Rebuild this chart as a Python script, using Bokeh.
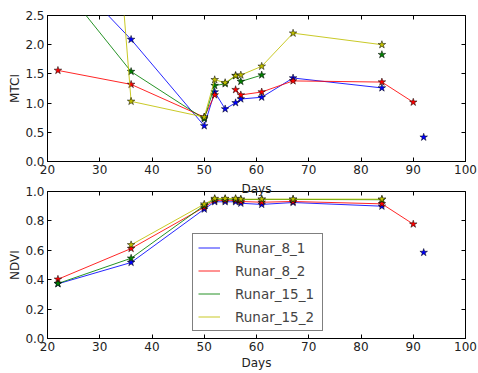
from bokeh.plotting import figure
from bokeh.layouts import column
from bokeh.models import (FixedTicker, PrintfTickFormatter, LinearAxis,
                          Range1d, Legend, LegendItem)
from bokeh.embed import file_html
from bokeh.resources import INLINE

nan = float("nan")

days = [22, 36, 50, 52, 54, 56, 57, 61, 67, 84, 90, 92]

series_names = ["Runar_8_1", "Runar_8_2", "Runar_15_1", "Runar_15_2"]
series_colors = ["#0000ff", "#ff0000", "#008000", "#bfbf00"]

mtci_8_1 = [3.4, 2.09, 0.61, 1.19, 0.90, 1.005, 1.07, 1.10, 1.43, 1.26, nan, 0.416]
mtci_8_2 = [1.56, 1.32, 0.76, 1.14, nan, 1.23, 1.14, 1.19, 1.38, 1.36, 1.015, nan]
mtci_15_1 = [3.1, 1.54, 0.73, 1.30, 1.33, 1.47, 1.37, 1.48, nan, 1.83, nan, nan]
mtci_15_2 = [16.7, 1.03, 0.76, 1.40, 1.35, 1.47, 1.48, 1.63, 2.197, 2.00, nan, nan]

ndvi_8_1 = [0.372, 0.517, 0.88, 0.93, 0.93, 0.93, 0.92, 0.912, 0.925, 0.90, nan, 0.585]
ndvi_8_2 = [0.403, 0.612, 0.893, 0.94, 0.94, 0.94, 0.932, 0.927, 0.932, 0.916, 0.778, nan]
ndvi_15_1 = [0.374, 0.546, 0.905, 0.948, 0.948, 0.948, 0.945, 0.946, 0.946, 0.944, nan, nan]
ndvi_15_2 = [nan, 0.637, 0.914, 0.952, 0.952, 0.952, 0.948, 0.948, 0.948, 0.948, nan, nan]

x_ticks = [20, 30, 40, 50, 60, 70, 80, 90, 100]
mtci_ticks = [0.0, 0.5, 1.0, 1.5, 2.0, 2.5]
ndvi_ticks = [0.0, 0.2, 0.4, 0.6, 0.8, 1.0]

FONT = "DejaVu Sans"
TICK_FS = "12px"
TEXT_COLOR = "#222222"


def style(p, yticks, ylabel, xlabel=None, top_label=None):
    p.grid.visible = False
    p.outline_line_color = "black"
    p.outline_line_width = 1
    p.background_fill_color = "white"
    p.border_fill_color = "white"
    p.yaxis.axis_label = ylabel
    if xlabel:
        p.xaxis.axis_label = xlabel
    for ax in p.xaxis + p.yaxis:
        ax.major_tick_in = 4
        ax.major_tick_out = 0
        ax.minor_tick_line_color = None
        ax.axis_line_color = "black"
        ax.major_label_text_font = FONT
        ax.major_label_text_font_size = TICK_FS
        ax.major_label_text_color = TEXT_COLOR
        ax.axis_label_text_font = FONT
        ax.axis_label_text_font_size = TICK_FS
        ax.axis_label_text_font_style = "normal"
        ax.axis_label_text_color = TEXT_COLOR
        ax.major_label_standoff = 3
        ax.axis_label_standoff = 2
    p.yaxis.axis_label_standoff = 0
    p.xaxis.ticker = FixedTicker(ticks=x_ticks)
    p.yaxis.ticker = FixedTicker(ticks=yticks)
    p.yaxis.formatter = PrintfTickFormatter(format="%.1f")
    # mirrored inward ticks on right and top, without tick labels
    for loc, ticks in (("right", yticks), ("above", x_ticks)):
        ax = LinearAxis(ticker=FixedTicker(ticks=ticks), major_label_text_color=None,
                        major_label_text_font_size="0px", major_label_standoff=0,
                        major_tick_in=4, major_tick_out=0,
                        minor_tick_line_color=None, axis_line_color=None)
        if loc == "above" and top_label:
            # the upper panel's "Days" label sits just above the lower frame
            ax.axis_label = top_label
            ax.axis_label_standoff = -4
            ax.axis_label_text_font = FONT
            ax.axis_label_text_font_size = TICK_FS
            ax.axis_label_text_font_style = "normal"
            ax.axis_label_text_color = TEXT_COLOR
        p.add_layout(ax, loc)


top = figure(width=478, height=177, output_backend="svg", toolbar_location=None,
             x_range=Range1d(20, 100), y_range=Range1d(0, 2.5),
             min_border_left=47, min_border_right=13, min_border_top=15, min_border_bottom=16)
style(top, mtci_ticks, "MTCI")

bot = figure(width=478, height=196, output_backend="svg", toolbar_location=None,
             x_range=Range1d(20, 100), y_range=Range1d(0, 1.0),
             min_border_left=47, min_border_right=13, min_border_top=14, min_border_bottom=35)
style(bot, ndvi_ticks, "NDVI", "Days", top_label="Days")

items = []
for name, color, mt, nd in zip(series_names, series_colors,
                               [mtci_8_1, mtci_8_2, mtci_15_1, mtci_15_2],
                               [ndvi_8_1, ndvi_8_2, ndvi_15_1, ndvi_15_2]):
    top.line(days, mt, line_color=color, line_width=1, line_alpha=0.85)
    top.scatter(days, mt, marker="star", size=8, fill_color=color,
                line_color="black", line_width=0.5)
    ln = bot.line(days, nd, line_color=color, line_width=1, line_alpha=0.85)
    bot.scatter(days, nd, marker="star", size=8, fill_color=color,
                line_color="black", line_width=0.5)
    items.append(LegendItem(label=name, renderers=[ln]))

legend = Legend(items=items, location=(145, 7), label_text_font=FONT,
                label_text_font_size="13.5px", glyph_width=22, glyph_height=17,
                label_height=17, label_width=82,
                label_standoff=15, padding=5, spacing=6, margin=0,
                border_line_color="black", border_line_width=1,
                background_fill_color="white", background_fill_alpha=1)
bot.add_layout(legend, "center")

layout = column(top, bot, spacing=0)
open("out.html", "w").write(file_html(layout, INLINE))
